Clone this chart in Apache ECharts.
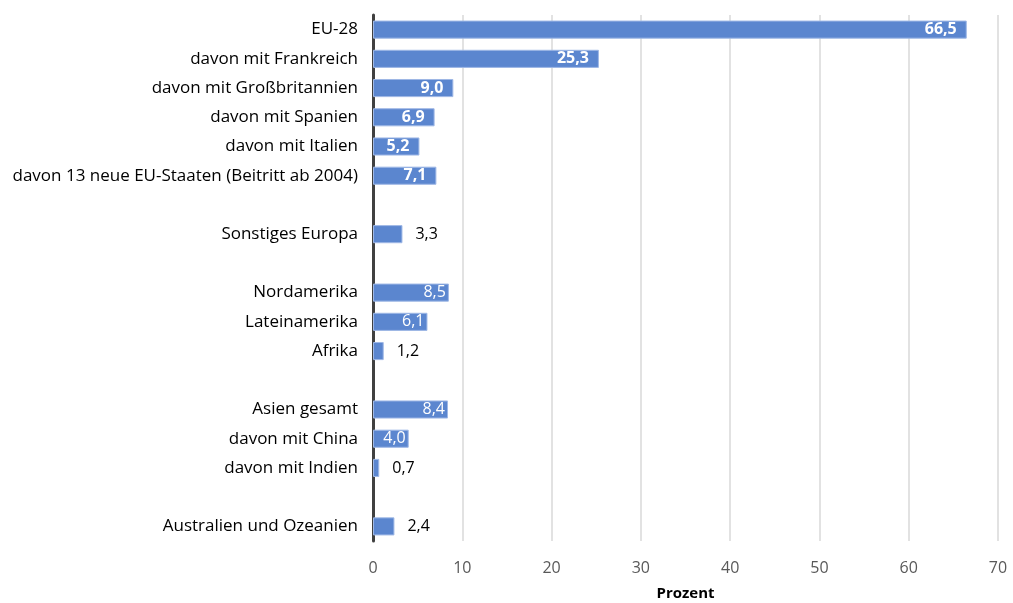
<!DOCTYPE html>
<html>
<head>
<meta charset="utf-8">
<script src="https://cdn.jsdelivr.net/npm/echarts@6/dist/echarts.min.js"></script>
<style>
  html, body { margin: 0; padding: 0; background: #fff; }
  #chart { width: 1013px; height: 603px; }
</style>
</head>
<body>
<div id="chart"></div>
<script>
// Kategorien (leere Einträge = Lücken zwischen den Gruppen)
var categories = [
    'EU-28',
    'davon mit Frankreich',
    'davon mit Großbritannien',
    'davon mit Spanien',
    'davon mit Italien',
    'davon 13 neue EU-Staaten (Beitritt ab 2004)',
    ' ',
    'Sonstiges Europa',
    '  ',
    'Nordamerika',
    'Lateinamerika',
    'Afrika',
    '   ',
    'Asien gesamt',
    'davon mit China',
    'davon mit Indien',
    '    ',
    'Australien und Ozeanien'
];
var values = [66.5, 25.3, 9.0, 6.9, 5.2, 7.1, null, 3.3, null, 8.5, 6.1, 1.2, null, 8.4, 4.0, 0.7, null, 2.4];
var xTicks = [0, 10, 20, 30, 40, 50, 60, 70];
var xTitle = 'Prozent';

// Beschriftungsart je Balken
var boldInside = ['EU-28', 'davon mit Frankreich', 'davon mit Großbritannien', 'davon mit Spanien', 'davon mit Italien', 'davon 13 neue EU-Staaten (Beitritt ab 2004)'];
var outside = ['Sonstiges Europa', 'Afrika', 'davon mit Indien', 'Australien und Ozeanien'];

var font = '"Open Sans", "Liberation Sans", sans-serif';

function fmt(v) {
    return v.toFixed(1).replace('.', ',');
}

var barData = values.map(function (v, i) {
    if (v === null) return '-';
    var name = categories[i];
    var label;
    if (outside.indexOf(name) >= 0) {
        label = { position: 'right', distance: 13, color: '#000' };
    } else if (boldInside.indexOf(name) >= 0) {
        label = { position: 'insideRight', distance: 10, color: '#fff', fontWeight: 'bold' };
    } else {
        label = { position: 'insideRight', distance: 3, color: '#fff' };
    }
    return { value: v, label: label };
});

var chart = echarts.init(document.getElementById('chart'));
chart.setOption({
    animation: false,
    grid: { left: 373, right: 15, top: 15, bottom: 62, containLabel: false, outerBoundsMode: 'none' },
    xAxis: {
        type: 'value',
        min: xTicks[0],
        max: xTicks[xTicks.length - 1],
        interval: 10,
        axisLine: { show: false },
        axisTick: { show: false },
        splitLine: { show: true, lineStyle: { color: '#d9d9d9', width: 1.5 } },
        axisLabel: { color: '#595959', fontFamily: font, fontSize: 16, margin: 19 },
        name: xTitle,
        nameLocation: 'middle',
        nameGap: 45,
        nameTextStyle: { color: '#000', fontFamily: font, fontSize: 15, fontWeight: 'bold' }
    },
    yAxis: {
        type: 'category',
        data: categories,
        inverse: true,
        axisLine: { show: true, lineStyle: { color: '#404040', width: 3 } },
        axisTick: { show: false },
        axisLabel: { color: '#000', fontFamily: font, fontSize: 17, margin: 15 }
    },
    series: [{
        type: 'bar',
        data: barData,
        barWidth: '62%',
        itemStyle: { color: '#5b86cf', borderColor: '#9fb8e6', borderWidth: 1 },
        label: {
            show: true,
            fontFamily: font,
            fontSize: 16,
            fontWeight: 'normal',
            formatter: function (p) { return fmt(p.value); }
        }
    }]
});
</script>
</body>
</html>
